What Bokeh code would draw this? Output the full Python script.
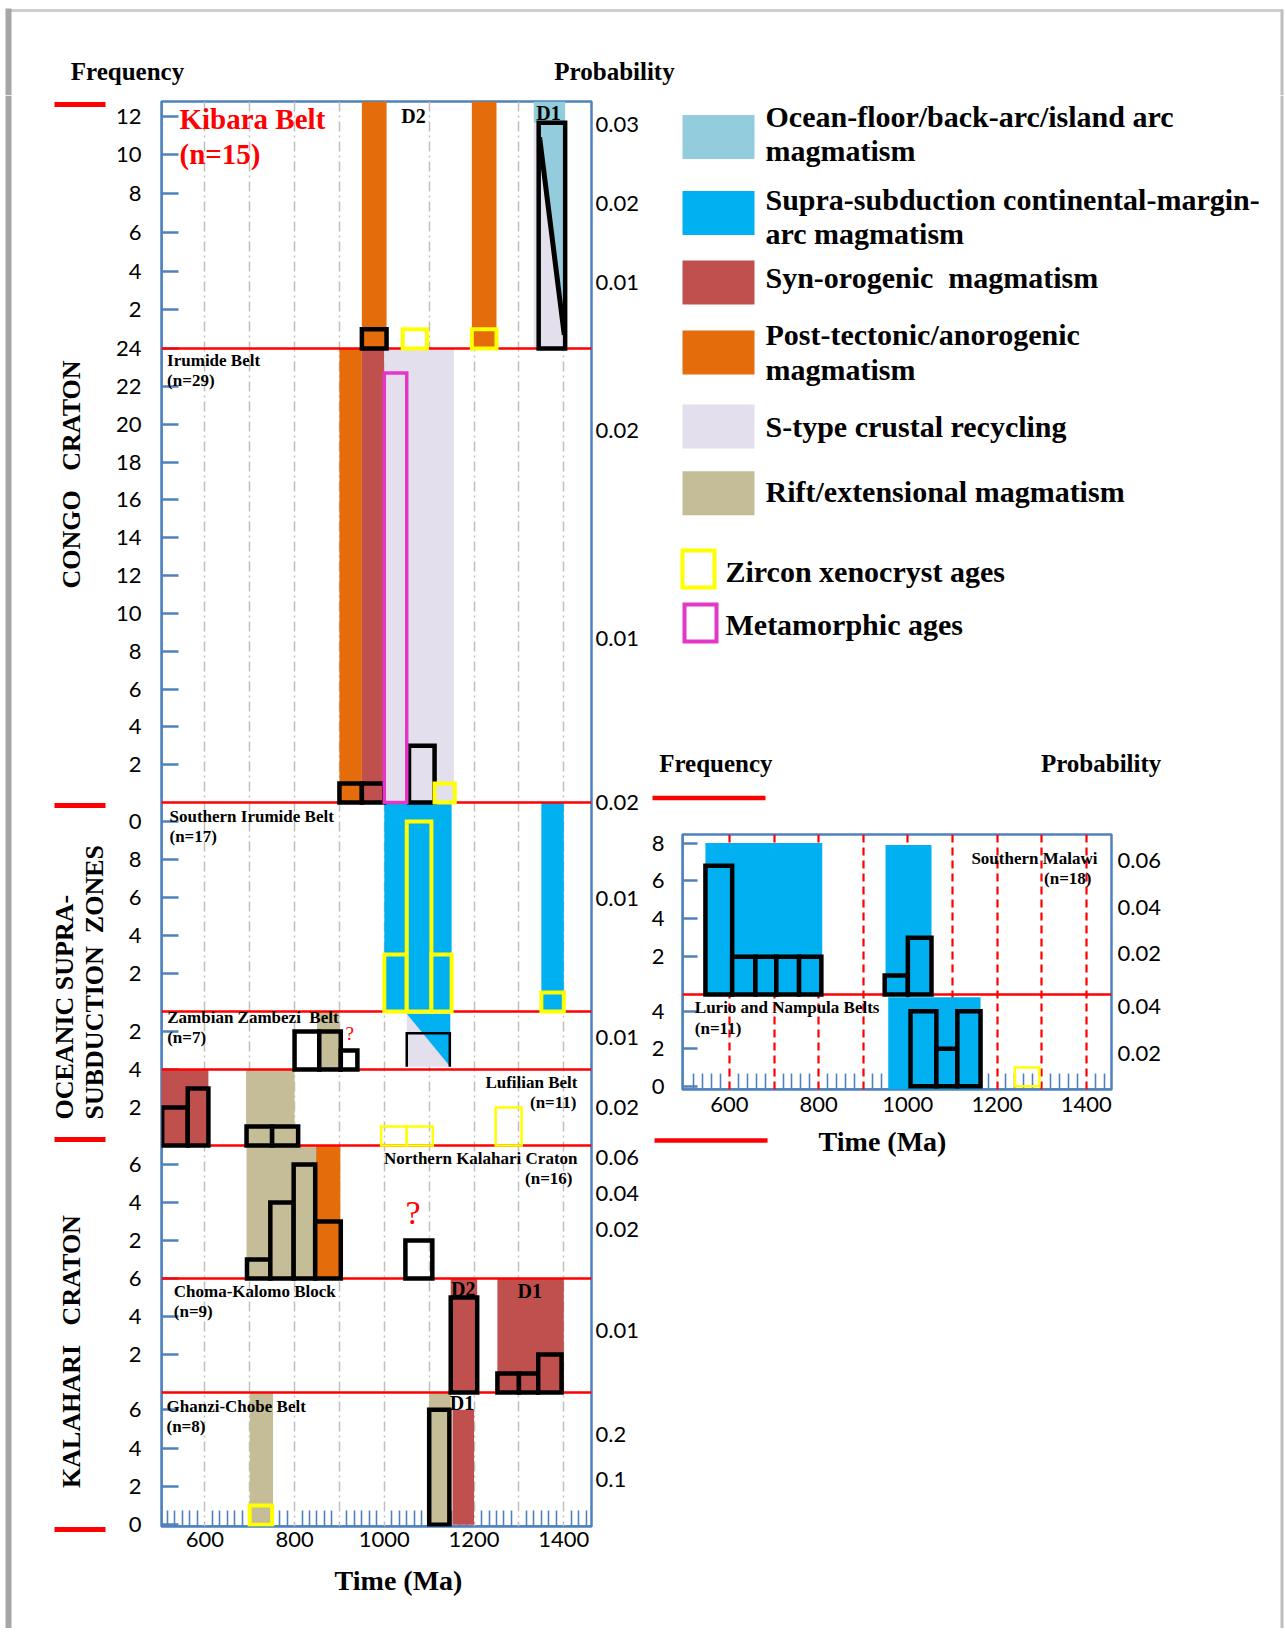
import math
from bokeh.plotting import figure
from bokeh.models import Range1d, LinearAxis, FixedTicker
from bokeh.layouts import column, row
from bokeh.embed import file_html
from bokeh.resources import INLINE
from bokeh.core.properties import value

# ====================== DATA ======================
time_ticks = [600, 800, 1000, 1200, 1400]
time_grid = [600, 700, 800, 900, 1000, 1100, 1200, 1300, 1400]

# --- Kibara Belt (n=15) ---
kib_band_x0 = [950, 1195, 1333, 1333]
kib_band_x1 = [1005, 1250, 1403, 1403]
kib_band_y0 = [0, 0, 11.65, 0]
kib_band_y1 = [None, None, None, 11.65]
kib_band_kind = ["post", "post", "ocean", "stype"]
kib_bar_x0 = [950, 1041, 1195, 1344]
kib_bar_x1 = [1005, 1095, 1250, 1403]
kib_bar_n = [1, 1, 1, 11.65]
kib_bar_edge = ["black", "yellow", "yellow", "black"]
kib_bar_fill = ["post", None, "post", None]
kib_wedge_x = [1344, 1403, 1403, 1344]
kib_wedge_y = [11.65, 11.65, 0.7, 10.9]
kib_split_x = [1346, 1401]
kib_split_y = [10.9, 0.7]
kib_freq_ticks = [2, 4, 6, 8, 10, 12]
kib_prob_ticks = [0.01, 0.02, 0.03]

# --- Irumide Belt (n=29) ---
iru_band_x0 = [900, 950, 1000]
iru_band_x1 = [950, 1000, 1155]
iru_band_y0 = [0, 0, 0]
iru_band_y1 = [None, None, None]
iru_band_kind = ["post", "syn", "stype"]
iru_bar_x0 = [900, 950, 1000, 1055, 1112]
iru_bar_x1 = [950, 1000, 1050, 1112, 1157]
iru_bar_n = [1, 1, 22.7, 3, 1]
iru_bar_edge = ["black", "black", "pink", "black", "yellow"]
iru_bar_fill = ["post", "syn", "stype", "stype", "stype"]
iru_freq_ticks = [2, 4, 6, 8, 10, 12, 14, 16, 18, 20, 22, 24]
iru_prob_ticks = [0.01, 0.02]

# --- Southern Irumide Belt (n=17) ---
sir_band_x0 = [1000, 1350]
sir_band_x1 = [1150, 1400]
sir_band_y0 = [0, 0]
sir_band_y1 = [None, None]
sir_band_kind = ["supra", "supra"]
sir_bar_x0 = [1000, 1050, 1105, 1350]
sir_bar_x1 = [1050, 1105, 1150, 1400]
sir_bar_n = [3, 10, 3, 1]
sir_bar_edge = ["yellow", "yellow", "yellow", "yellow"]
sir_bar_fill = ["supra", "supra", "supra", "supra"]
sir_freq_ticks = [2, 4, 6, 8, 10]
sir_freq_labels = ["2", "4", "6", "8", "0"]
sir_prob_ticks = [0.01, 0.02]

# --- Zambian Zambezi Belt (n=7) ---
zam_band_x0 = [850, 1050]
zam_band_x1 = [900, 1147]
zam_band_y0 = [0, 0.15]
zam_band_y1 = [None, 2.93]
zam_band_kind = ["rift", "stype"]
zam_wedge_x = [1050, 1147, 1147]
zam_wedge_y = [2.93, 2.93, 0.15]
zam_bar_x0 = [800, 855, 903]
zam_bar_x1 = [855, 903, 940]
zam_bar_n = [2, 2, 1]
zam_bar_edge = ["black", "black", "black"]
zam_bar_fill = [None, "rift", None]
zam_open_x = [1050, 1050, 1146, 1146]
zam_open_y = [0.15, 1.9, 1.9, 0.15]
zam_freq_ticks = [2]
zam_prob_ticks = [0.01]

# --- Lufilian Belt (n=11) ---
luf_band_x0 = [500, 692]
luf_band_x1 = [608, 800]
luf_band_y0 = [0, 0]
luf_band_y1 = [None, None]
luf_band_kind = ["syn", "rift"]
luf_bar_x0 = [505, 562, 693, 750, 993, 1050, 1248]
luf_bar_x1 = [562, 608, 750, 808, 1050, 1108, 1306]
luf_bar_n = [2, 3, 1, 1, 1, 1, 2]
luf_bar_edge = ["black", "black", "black", "black", "yellow_thin", "yellow_thin", "yellow_thin"]
luf_bar_fill = ["syn", "syn", "rift", "rift", None, None, None]
luf_freq_ticks = [2, 4]
luf_prob_ticks = [0.02]

# --- Northern Kalahari Craton (n=16) ---
nka_band_x0 = [693, 848]
nka_band_x1 = [848, 902]
nka_band_y0 = [0, 0]
nka_band_y1 = [None, None]
nka_band_kind = ["rift", "post"]
nka_bar_x0 = [694, 746, 798, 846, 1047]
nka_bar_x1 = [746, 798, 846, 903, 1107]
nka_bar_n = [1, 4, 6, 3, 2]
nka_bar_edge = ["black", "black", "black", "black", "black"]
nka_bar_fill = ["rift", "rift", "rift", "post", None]
nka_freq_ticks = [2, 4, 6]
nka_prob_ticks = [0.02, 0.04, 0.06]

# --- Choma-Kalomo Block (n=9) ---
cho_band_x0 = [1148, 1252]
cho_band_x1 = [1207, 1400]
cho_band_y0 = [0, 0]
cho_band_y1 = [None, None]
cho_band_kind = ["syn", "syn"]
cho_bar_x0 = [1148, 1252, 1300, 1343]
cho_bar_x1 = [1207, 1300, 1343, 1395]
cho_bar_n = [5, 1, 1, 2]
cho_bar_edge = ["black", "black", "black", "black"]
cho_bar_fill = ["syn", "syn", "syn", "syn"]
cho_freq_ticks = [2, 4, 6]
cho_prob_ticks = [0.01]

# --- Ghanzi-Chobe Belt (n=8) ---
gha_band_x0 = [700, 1100, 1152]
gha_band_x1 = [752, 1148, 1200]
gha_band_y0 = [0, 0, 0]
gha_band_y1 = [None, None, 6.0]
gha_band_kind = ["rift", "rift", "syn"]
gha_bar_x0 = [700, 1100]
gha_bar_x1 = [750, 1145]
gha_bar_n = [1, 6]
gha_bar_edge = ["yellow", "black"]
gha_bar_fill = ["rift", "rift"]
gha_freq_ticks = [0, 2, 4, 6]
gha_prob_ticks = [0.1, 0.2]

# --- Southern Malawi (n=18) ---
sma_band_x0 = [546, 950]
sma_band_x1 = [808, 1053]
sma_band_y0 = [0, 0]
sma_band_y1 = [8.0, 7.9]
sma_band_kind = ["supra", "supra"]
sma_bar_x0 = [546, 606, 658, 705, 756, 948, 1000]
sma_bar_x1 = [606, 658, 705, 756, 806, 1000, 1053]
sma_bar_n = [6.8, 2, 2, 2, 2, 1, 3]
sma_bar_edge = ["black"] * 7
sma_bar_fill = ["supra"] * 7
sma_freq_ticks = [2, 4, 6, 8]
sma_prob_ticks = [0.02, 0.04, 0.06]

# --- Lurio and Nampula Belts (n=11) ---
lur_band_x0 = [956]
lur_band_x1 = [1163]
lur_band_y0 = [-0.17]
lur_band_y1 = [4.75]
lur_band_kind = ["supra"]
lur_bar_x0 = [1006, 1064, 1111, 1240]
lur_bar_x1 = [1064, 1111, 1163, 1295]
lur_bar_n = [4, 2, 4, 1]
lur_bar_edge = ["black", "black", "black", "yellow_thin"]
lur_bar_fill = ["supra", "supra", "supra", None]
lur_freq_ticks = [0, 2, 4]
lur_prob_ticks = [0.02, 0.04]

# --- panel titles ---
main_names = ["Kibara Belt", "Irumide Belt", "Southern Irumide Belt", "Zambian Zambezi  Belt",
              "Lufilian Belt", "Northern Kalahari Craton", "Choma-Kalomo Block", "Ghanzi-Chobe Belt"]
main_counts = [15, 29, 17, 7, 11, 16, 9, 8]
inset_names = ["Southern Malawi", "Lurio and Nampula Belts"]
inset_counts = [18, 11]
region_names = ["CONGO   CRATON", "OCEANIC SUPRA-", "SUBDUCTION  ZONES", "KALAHARI   CRATON"]
time_title = "Time (Ma)"

# --- event labels ---
event_panel = ["kib", "kib", "cho", "cho", "gha"]
event_text = ["D2", "D1", "D2", "D1", "D1"]
event_x = [1065, 1366, 1176, 1324, 1173]
event_y = [12.0, 12.15, 5.46, 5.36, 6.36]
query_panel = ["zam", "nka"]
query_x = [923, 1064]
query_y = [1.88, 3.49]

# --- legend ---
legend_kinds = ["ocean", "supra", "syn", "post", "stype", "rift"]
legend_labels = ["Ocean-floor/back-arc/island arc\nmagmatism",
                 "Supra-subduction continental-margin-\narc magmatism",
                 "Syn-orogenic  magmatism",
                 "Post-tectonic/anorogenic\nmagmatism",
                 "S-type crustal recycling",
                 "Rift/extensional magmatism"]
outline_labels = ["Zircon xenocryst ages", "Metamorphic ages"]
outline_edges = ["yellow", "pink"]

# ====================== STYLE ======================
SERIF = "Liberation Serif"
SANS = "Lato"
TICK_FONT = "22px"
AXIS_BLUE = "#4F81BD"
RED = "#FF0000"
GREY = "#A6A6A6"
COL = {"ocean": "#93CDDD", "supra": "#00B0F0", "syn": "#C0504D", "post": "#E46C0A",
       "stype": "#E4DFEC", "rift": "#C4BD97"}
EDGE = {"black": ("#000000", 4.5), "yellow": ("#FFFF00", 4.0),
        "yellow_thin": ("#FFFF00", 2.5), "pink": ("#E536C8", 3.5)}


def keep_spaces(s):
    # SVG collapses runs of blanks; keep the wide gaps of the original
    return s.replace("  ", " \u00a0")


def add_text(p, xs, ys, labels, size, color="black", align="left", bold=True, font=None,
             angle=0.0, xr="default", yr="default"):
    p.text(x=list(xs), y=list(ys), text=[keep_spaces(t) for t in labels], angle=angle,
           text_font=value(font or SERIF), text_font_style="bold" if bold else "normal",
           text_font_size=f"{size}px", text_color=color, text_align=align,
           text_baseline="middle", x_range_name=xr, y_range_name=yr)


def seg(p, x0, x1, y0, y1, color, width, xr="default"):
    p.segment(x0=[x0], x1=[x1], y0=[y0], y1=[y1], line_color=color, line_width=width,
              x_range_name=xr)


def P(key, top, bot, lo, hi, plo, phi, bands, bars, fticks, pticks, flabels=None):
    return dict(key=key, top=top, bot=bot, lo=lo, hi=hi, plo=plo, phi=phi, bands=bands,
                bars=bars, fticks=fticks, pticks=pticks,
                flabels=flabels if flabels is not None else [f"{v:g}" for v in fticks])


def blank(width, height, x0, x1, ytop, ybot):
    p = figure(width=width, height=height, x_range=Range1d(x0, x1), y_range=Range1d(ybot, ytop),
               x_axis_type=None, y_axis_type=None, toolbar_location=None,
               output_backend="svg", min_border=0, outline_line_color=None)
    p.background_fill_color = "white"
    p.border_fill_color = "white"
    return p


def label_axis(ticks, overrides, standoff):
    return LinearAxis(ticker=FixedTicker(ticks=ticks), major_label_overrides=overrides,
                      axis_line_color=None, major_tick_line_color=None,
                      minor_tick_line_color=None, major_label_standoff=standoff,
                      major_label_text_font=SANS, major_label_text_font_size=TICK_FONT,
                      major_label_text_color="black")


def build_chart(width, height, page_x0, page_y0, fx0, fx1, fy0, fy1, xr, panels, minor,
                grid_color, grid_dash, grid_width, tick_in, tick_out, lstand, rstand, bstand):
    p = figure(width=width, height=height, x_range=Range1d(*xr), y_range=Range1d(fy1, fy0),
               toolbar_location=None, output_backend="svg",
               min_border_left=fx0 - page_x0, min_border_right=page_x0 + width - fx1,
               min_border_top=fy0 - page_y0, min_border_bottom=page_y0 + height - fy1)
    p.outline_line_color = AXIS_BLUE
    p.outline_line_width = 2.5
    p.background_fill_color = "white"
    p.border_fill_color = "white"
    ranges, lt, lmap, rt, rmap = {}, [], {}, [], {}
    for pn in panels:
        s = (pn["bot"] - pn["top"]) / (pn["hi"] - pn["lo"])
        ranges[pn["key"]] = Range1d(pn["lo"] - (fy1 - pn["bot"]) / s,
                                    pn["hi"] + (pn["top"] - fy0) / s)
        for v, lab in zip(pn["fticks"], pn["flabels"]):
            y = round(pn["bot"] - (v - pn["lo"]) * s, 2)
            lt.append(y)
            lmap[y] = lab
        ps = (pn["bot"] - pn["top"]) / (pn["phi"] - pn["plo"])
        for v in pn["pticks"]:
            y = round(pn["bot"] - (v - pn["plo"]) * ps, 2)
            rt.append(y)
            rmap[y] = f"{v:g}"
    p.extra_y_ranges = ranges
    p.extra_x_ranges = {"px": Range1d(fx0, fx1)}

    # tick marks sit underneath the bars (underlay); labels come from a second axis
    ya = p.yaxis[0]
    ya.ticker = FixedTicker(ticks=lt)
    ya.major_label_overrides = {y: "" for y in lt}
    ya.major_label_text_font_size = "0px"
    ya.major_label_standoff = 0
    ya.major_tick_in = tick_in
    ya.major_tick_out = tick_out
    ya.major_tick_line_color = AXIS_BLUE
    ya.major_tick_line_width = 2.5
    ya.minor_tick_line_color = None
    ya.axis_line_color = AXIS_BLUE
    ya.axis_line_width = 2.5
    ya.level = "underlay"
    p.add_layout(label_axis(lt, lmap, lstand), "left")
    p.add_layout(label_axis(rt, rmap, rstand), "right")

    xa = p.xaxis[0]
    xa.ticker = FixedTicker(ticks=time_ticks, minor_ticks=minor)
    xa.major_label_overrides = {t: "" for t in time_ticks}
    xa.major_label_text_font_size = "0px"
    xa.major_label_standoff = 0
    xa.major_tick_line_color = None
    xa.minor_tick_in = 16
    xa.minor_tick_out = 0
    xa.minor_tick_line_color = AXIS_BLUE
    xa.minor_tick_line_width = 1.6
    xa.axis_line_color = AXIS_BLUE
    xa.axis_line_width = 2.5
    xa.level = "underlay"
    p.add_layout(label_axis(time_ticks, {t: str(t) for t in time_ticks}, bstand), "below")

    p.xgrid.ticker = FixedTicker(ticks=time_grid)
    p.xgrid.grid_line_color = grid_color
    p.xgrid.grid_line_dash = grid_dash
    p.xgrid.grid_line_width = grid_width
    p.ygrid.visible = False
    return p


def draw_bands(p, panels):
    for pn in panels:
        x0, x1, y0, y1, kind = pn["bands"]
        top = [pn["hi"] if v is None else v for v in y1]
        p.quad(left=x0, right=x1, bottom=y0, top=top, fill_color=[COL[k] for k in kind],
               line_color=None, y_range_name=pn["key"])


def draw_separators(p, panels, fx0, fx1):
    ys = [pn["bot"] for pn in panels[:-1]]
    p.segment(x0=fx0, x1=fx1, y0=ys, y1=ys, x_range_name="px", line_color=RED, line_width=2.5)


def draw_bars(p, panels):
    for pn in panels:
        x0, x1, n, edge, fill = pn["bars"]
        for e, (color, lw) in EDGE.items():
            idx = [i for i, v in enumerate(edge) if v == e]
            if not idx:
                continue
            fills = [fill[i] for i in idx]
            p.quad(left=[x0[i] for i in idx], right=[x1[i] for i in idx], bottom=0,
                   top=[n[i] for i in idx],
                   fill_color=[COL[f] if f else "#FFFFFF" for f in fills],
                   fill_alpha=[1.0 if f else 0.0 for f in fills],
                   line_color=color, line_width=lw, line_join="miter",
                   y_range_name=pn["key"])


# ====================== PANELS ======================
main_panels = [
    P("kib", 101, 348, 0.0, 12.75, 0.0017, 0.0329,
      (kib_band_x0, kib_band_x1, kib_band_y0, kib_band_y1, kib_band_kind),
      (kib_bar_x0, kib_bar_x1, kib_bar_n, kib_bar_edge, kib_bar_fill),
      kib_freq_ticks, kib_prob_ticks),
    P("iru", 348, 802, 0.0, 24.0, 0.00214, 0.02394,
      (iru_band_x0, iru_band_x1, iru_band_y0, iru_band_y1, iru_band_kind),
      (iru_bar_x0, iru_bar_x1, iru_bar_n, iru_bar_edge, iru_bar_fill),
      iru_freq_ticks, iru_prob_ticks),
    P("sir", 802, 1011, 0.0, 11.0, -0.00184, 0.02,
      (sir_band_x0, sir_band_x1, sir_band_y0, sir_band_y1, sir_band_kind),
      (sir_bar_x0, sir_bar_x1, sir_bar_n, sir_bar_edge, sir_bar_fill),
      sir_freq_ticks, sir_prob_ticks, sir_freq_labels),
    P("zam", 1011, 1069, 0.0, 3.05, 0.0, 0.0182,
      (zam_band_x0, zam_band_x1, zam_band_y0, zam_band_y1, zam_band_kind),
      (zam_bar_x0, zam_bar_x1, zam_bar_n, zam_bar_edge, zam_bar_fill),
      zam_freq_ticks, zam_prob_ticks),
    P("luf", 1069, 1145, 0.0, 4.0, 0.0, 0.04,
      (luf_band_x0, luf_band_x1, luf_band_y0, luf_band_y1, luf_band_kind),
      (luf_bar_x0, luf_bar_x1, luf_bar_n, luf_bar_edge, luf_bar_fill),
      luf_freq_ticks, luf_prob_ticks),
    P("nka", 1145, 1278, 0.0, 7.0, -0.00747, 0.0666,
      (nka_band_x0, nka_band_x1, nka_band_y0, nka_band_y1, nka_band_kind),
      (nka_bar_x0, nka_bar_x1, nka_bar_n, nka_bar_edge, nka_bar_fill),
      nka_freq_ticks, nka_prob_ticks),
    P("cho", 1278, 1392, 0.0, 6.0, 0.0, 0.0183,
      (cho_band_x0, cho_band_x1, cho_band_y0, cho_band_y1, cho_band_kind),
      (cho_bar_x0, cho_bar_x1, cho_bar_n, cho_bar_edge, cho_bar_fill),
      cho_freq_ticks, cho_prob_ticks),
    P("gha", 1392, 1526, -0.09, 6.9, -0.006, 0.2937,
      (gha_band_x0, gha_band_x1, gha_band_y0, gha_band_y1, gha_band_kind),
      (gha_bar_x0, gha_bar_x1, gha_bar_n, gha_bar_edge, gha_bar_fill),
      gha_freq_ticks, gha_prob_ticks),
]

inset_panels = [
    P("sma", 834, 994, 0.0, 8.45, 0.00237, 0.0712,
      (sma_band_x0, sma_band_x1, sma_band_y0, sma_band_y1, sma_band_kind),
      (sma_bar_x0, sma_bar_x1, sma_bar_n, sma_bar_edge, sma_bar_fill),
      sma_freq_ticks, sma_prob_ticks),
    P("lur", 994, 1089, -0.17, 4.89, 0.00468, 0.0451,
      (lur_band_x0, lur_band_x1, lur_band_y0, lur_band_y1, lur_band_kind),
      (lur_bar_x0, lur_bar_x1, lur_bar_n, lur_bar_edge, lur_bar_fill),
      lur_freq_ticks, lur_prob_ticks),
]

main_minor = [500 + k * 100.0 / 6 for k in range(1, 58) if k % 6]
inset_minor = [500 + 20 * k for k in range(1, 48) if (20 * k) % 100]

# page layout (pixels): header 0-95, body 95-1628, footer 1628-1632
# columns: left strip 0-110, main 110-648, right 648-1278, edge 1278-1284

# ====================== MAIN CHART ======================
main = build_chart(538, 1465, 110, 95, 161, 591, 101, 1526, (503.5, 1461.7), main_panels,
                   main_minor, "#BFBFBF", "10 4 2 4", 1.5, 17, 0, 14, -2, -7)
draw_bands(main, main_panels)
main.patch(kib_wedge_x, kib_wedge_y, fill_color=COL["ocean"], line_color=None, y_range_name="kib")
main.patch(zam_wedge_x, zam_wedge_y, fill_color=COL["supra"], line_color=None, y_range_name="zam")
draw_separators(main, main_panels, 161, 591)
draw_bars(main, main_panels)
main.line(kib_split_x, kib_split_y, line_color="black", line_width=5, y_range_name="kib")
main.line(zam_open_x, zam_open_y, line_color="black", line_width=2.5, line_join="miter",
          y_range_name="zam")

title_layout = [  # x_name, y_name, x_n, y_n, align   (page pixels)
    (179, 118.5, 179, 153.5, "left"),
    (166.6, 359.5, 166.6, 380, "left"),
    (169, 816, 169, 836, "left"),
    (166.7, 1017.3, 166.7, 1037.3, "left"),
    (577, 1081.7, 576, 1101.7, "right"),
    (577, 1158.3, 572, 1178.3, "right"),
    (173.3, 1291, 173.3, 1310.7, "left"),
    (166, 1406, 166, 1426, "left"),
]
for i, (name, cnt, (xa_, ya_, xb_, yb_, al)) in enumerate(zip(main_names, main_counts, title_layout)):
    size, color = (29, RED) if i == 0 else (17, "black")
    add_text(main, [xa_, xb_], [ya_, yb_], [name, f"(n={cnt})"], size, color=color, align=al, xr="px")

for pk in sorted(set(event_panel)):
    idx = [i for i, v in enumerate(event_panel) if v == pk]
    add_text(main, [event_x[i] for i in idx], [event_y[i] for i in idx],
             [event_text[i] for i in idx], 20, align="center", yr=pk)
add_text(main, [query_x[0]], [query_y[0]], ["?"], 19, color=RED, align="center", bold=False,
         yr=query_panel[0])
add_text(main, [query_x[1]], [query_y[1]], ["?"], 34, color=RED, align="center", bold=False,
         yr=query_panel[1])

low_main = blank(538, 68, 110, 648, 1560, 1628)
add_text(low_main, [398], [1580], [time_title], 28, align="center")

# ====================== INSET CHART ======================
inset = build_chart(630, 315, 648, 808, 682, 1111, 834, 1089, (494.6, 1456.7), inset_panels,
                    inset_minor, RED, "8 5", 2.2, 15, 2, 10, 0, -5)
draw_bands(inset, inset_panels)
draw_separators(inset, inset_panels, 682, 1111)
draw_bars(inset, inset_panels)
add_text(inset, [1097, 1091], [858.3, 878.3], [inset_names[0], f"(n={inset_counts[0]})"], 17,
         align="right", xr="px")
add_text(inset, [694.3, 694.3], [1007.3, 1027.7], [inset_names[1], f"(n={inset_counts[1]})"], 17,
         align="left", xr="px")

lower = blank(630, 505, 648, 1278, 1123, 1628)
add_text(lower, [882], [1141], [time_title], 28, align="center")
seg(lower, 654, 767, 1140, 1140, RED, 4.5)

# ====================== LEGEND ======================
leg = blank(630, 713, 648, 1278, 95, 808)
LEG_TOP = [114.5, 190.6, 260, 330, 404, 470.7]
LEG_TEXT_Y = [115.6, 198.9, 277, 334.3, 425.9, 490.5]
leg.quad(left=682, right=754, top=LEG_TOP, bottom=[t + 44 for t in LEG_TOP],
         fill_color=[COL[k] for k in legend_kinds], line_color=None)
lx, ly, lt_ = [], [], []
for lab, y in zip(legend_labels, LEG_TEXT_Y):
    for j, line in enumerate(lab.split("\n")):
        lx.append(765)
        ly.append(y + 34.5 * j)
        lt_.append(line)
add_text(leg, lx, ly, lt_, 30)
OBOX_TOP = [550, 604]
leg.quad(left=[682, 684], right=[714, 716], top=OBOX_TOP, bottom=[t + 37 for t in OBOX_TOP],
         fill_alpha=0, line_color=[EDGE[e][0] for e in outline_edges], line_width=4,
         line_join="miter")
add_text(leg, [725, 725], [570.6, 623.7], outline_labels, 30)
add_text(leg, [715.4, 1100.6], [763.3, 763.3], ["Frequency", "Probability"], 25, align="center")
seg(leg, 652, 765, 797.6, 797.6, RED, 4.5)

# ====================== HEADER / FRAME STRIPS ======================
hdr = blank(1284, 95, 0, 1284, 0, 95)
add_text(hdr, [127, 614], [71, 71], ["Frequency", "Probability"], 25, align="center")
seg(hdr, 8, 1282, 10, 10, "#CFCFCF", 3)
seg(hdr, 8, 8, 8, 95, GREY, 6)
seg(hdr, 1281.5, 1281.5, 9, 95, "#BDBDBD", 3)

lf = blank(110, 1533, 0, 110, 95, 1628)
seg(lf, 8, 8, 95, 1628, GREY, 6)
lf.segment(x0=54, x1=105, y0=[104, 805, 1139, 1529], y1=[104, 805, 1139, 1529],
           line_color=RED, line_width=5)
add_text(lf, [71], [474], [region_names[0]], 26, align="center", angle=math.pi / 2)
add_text(lf, [64, 94], [1119, 1119], region_names[1:3], 26, align="left", angle=math.pi / 2)
add_text(lf, [71], [1351], [region_names[3]], 26, align="center", angle=math.pi / 2)

edge = blank(6, 1533, 1278, 1284, 95, 1628)
seg(edge, 1281.5, 1281.5, 95, 1628, "#BDBDBD", 3)

foot = blank(1284, 4, 0, 1284, 1628, 1632)
seg(foot, 8, 1282, 1630, 1630, "#DADADA", 3)

# each plot wrapped in its own box so Bokeh does not align frames across siblings
main_col = column(row(main), row(low_main))
right_col = column(row(leg), row(inset), row(lower))
body = row(column(lf), main_col, right_col, column(edge))
layout = column(hdr, body, foot)
open("out.html", "w").write(file_html(layout, INLINE, title="Magmatic age histograms"))
